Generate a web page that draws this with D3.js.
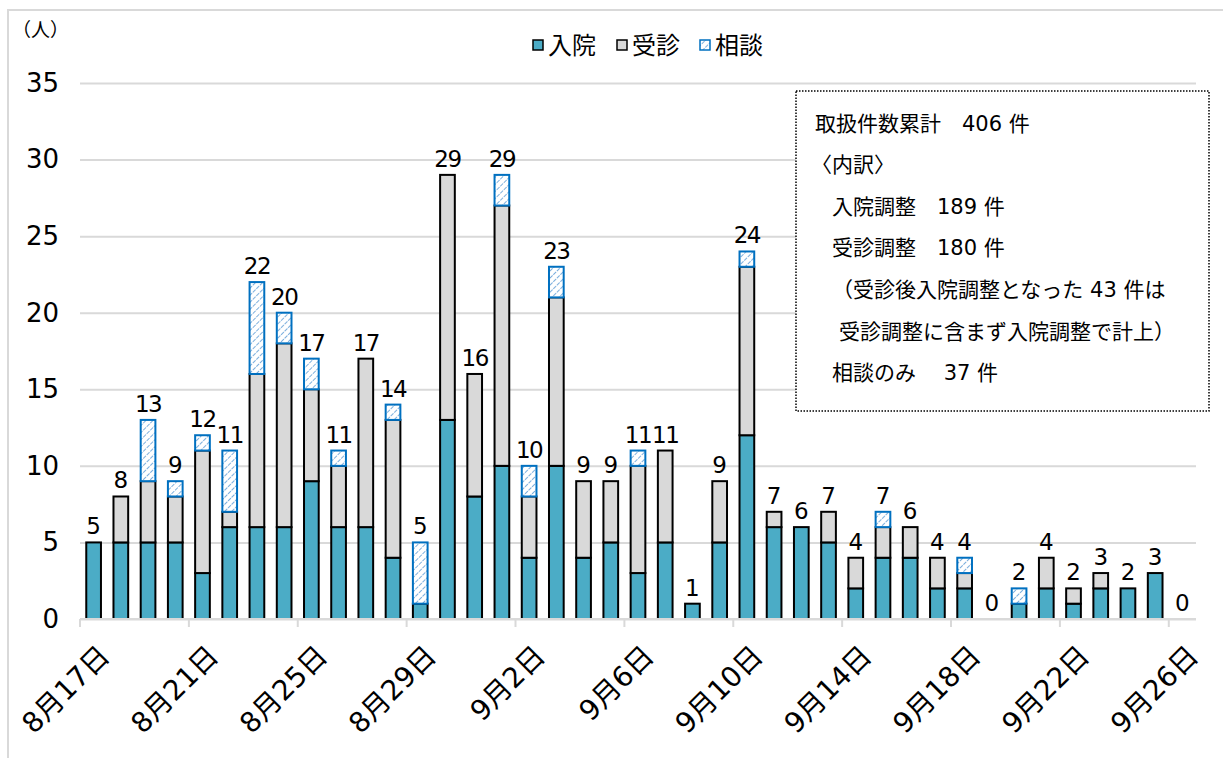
<!DOCTYPE html>
<html>
<head>
<meta charset="utf-8">
<script src="https://cdn.jsdelivr.net/npm/d3@7"></script>
<style>
  body { margin: 0; background: #fff; }
  svg { font-family: "DejaVu Sans", "Noto Sans CJK JP", sans-serif; }
</style>
</head>
<body>
<svg id="chart" width="1223" height="758"></svg>
<script>
// days 8/17 .. 9/26
const dates = [];
for (let d = 17; d <= 31; d++) dates.push(`8月${d}日`);
for (let d = 1; d <= 26; d++) dates.push(`9月${d}日`);

const nyuin = [5,5,5,5,3,6,6,6,9,6,6,4,1,13,8,10,4,10,4,5,3,5,1,5,12,6,6,5,2,4,4,2,2,0,1,2,1,2,2,3,0];
const jushin = [0,3,4,3,8,1,10,12,6,4,11,9,0,16,8,17,4,11,5,4,7,6,0,4,11,1,0,2,2,2,2,2,1,0,0,2,1,1,0,0,0];
const sodan = [0,0,4,1,1,4,6,2,2,1,0,1,4,0,0,2,2,2,0,0,1,0,0,0,1,0,0,0,0,1,0,0,1,0,1,0,0,0,0,0,0];

const seriesNames = ["入院", "受診", "相談"];
const yTicks = [0, 5, 10, 15, 20, 25, 30, 35];

const noteLines = [
    { text: "取扱件数累計\u3000406 件", indent: 0 },
    { text: "〈内訳〉", indent: -4 },
    { text: "入院調整\u3000189 件", indent: 17 },
    { text: "受診調整\u3000180 件", indent: 17 },
    { text: "（受診後入院調整となった 43 件は", indent: 17 },
    { text: "受診調整に含まず入院調整で計上）", indent: 24 },
    { text: "相談のみ\u3000 37 件", indent: 17 }
];

const svg = d3.select("#chart");

// hatch pattern for 相談
const defs = svg.append("defs");
defs.append("pattern")
    .attr("id", "hatch")
    .attr("patternUnits", "userSpaceOnUse")
    .attr("width", 5)
    .attr("height", 5)
    .attr("patternTransform", "rotate(45)")
    .call(p => {
        p.append("rect").attr("width", 5).attr("height", 5).attr("fill", "#fff");
        p.append("line")
            .attr("x1", 0).attr("y1", 0).attr("x2", 0).attr("y2", 5)
            .attr("stroke", "#5b9bd5")
            .attr("stroke-width", 1.6)
            .attr("stroke-dasharray", "3,1");
    });

// outer frame
svg.append("path")
    .attr("d", "M8,758 L8,10 L1223,10")
    .attr("fill", "none")
    .attr("stroke", "#d9d9d9")
    .attr("stroke-width", 2);

const margin = { left: 80, right: 1196, top: 83, bottom: 619 };

const x = d3.scaleBand()
    .domain(d3.range(dates.length))
    .range([margin.left, margin.right])
    .paddingInner(0)
    .paddingOuter(0);

const y = d3.scaleLinear()
    .domain([0, 35])
    .range([margin.bottom, margin.top]);

// gridlines + y labels
const yAxis = svg.append("g")
    .attr("transform", `translate(${margin.left},0)`)
    .call(d3.axisLeft(y).tickValues(yTicks).tickSize(-(margin.right - margin.left)).tickPadding(21));
yAxis.attr("font-family", null);
yAxis.select(".domain").remove();
yAxis.selectAll(".tick line").attr("stroke", "#d9d9d9").attr("stroke-width", 2);
yAxis.selectAll(".tick text")
    .attr("font-size", 26)
    .attr("fill", "#000");

// stacked data
const data = dates.map((d, i) => ({ i, 入院: nyuin[i], 受診: jushin[i], 相談: sodan[i] }));
const stack = d3.stack().keys(seriesNames)(data);

const fills = { "入院": "#4bacc6", "受診": "#d9d9d9", "相談": "url(#hatch)" };
const strokes = { "入院": "#000", "受診": "#000", "相談": "#0070c0" };

const barW = x.bandwidth() * 0.54;

svg.append("g")
    .selectAll("g")
    .data(stack)
    .join("g")
    .attr("fill", d => fills[d.key])
    .attr("stroke", d => strokes[d.key])
    .attr("stroke-width", 2)
    .selectAll("rect")
    .data(d => d.filter(s => s[1] > s[0]))
    .join("rect")
    .attr("x", d => x(d.data.i) + (x.bandwidth() - barW) / 2)
    .attr("y", d => y(d[1]))
    .attr("width", barW)
    .attr("height", d => y(d[0]) - y(d[1]));

// x axis
const xAxis = svg.append("g")
    .attr("transform", `translate(0,${margin.bottom})`)
    .call(d3.axisBottom(x)
        .tickValues(d3.range(0, dates.length, 4))
        .tickFormat(i => dates[i])
        .tickSize(8)
        .tickPadding(0));
xAxis.attr("font-family", null);
xAxis.select(".domain")
    .attr("d", `M${margin.left},0H${margin.right}`)
    .attr("stroke", "#d9d9d9")
    .attr("stroke-width", 2);
xAxis.selectAll(".tick line")
    .attr("x1", -x.step() / 2).attr("x2", -x.step() / 2)
    .attr("stroke", "#d9d9d9")
    .attr("stroke-width", 2);
xAxis.selectAll(".tick text")
    .attr("font-size", 28)
    .attr("fill", "#000")
    .attr("text-anchor", "end")
    .attr("dy", "0.35em")
    .attr("transform", "translate(5,26) rotate(-45)");

// total labels
svg.append("g")
    .selectAll("text")
    .data(data)
    .join("text")
    .attr("x", d => x(d.i) + x.bandwidth() / 2)
    .attr("y", d => y(d.入院 + d.受診 + d.相談) - 8)
    .attr("text-anchor", "middle")
    .attr("font-size", 23)
    .attr("letter-spacing", d => (d.入院 + d.受診 + d.相談) >= 10 ? -1.5 : 0)
    .attr("fill", "#000")
    .text(d => d.入院 + d.受診 + d.相談);

// y unit
svg.append("text")
    .attr("x", 12)
    .attr("y", 37)
    .attr("font-size", 19)
    .attr("font-family", "Noto Sans CJK JP")
    .text("（人）");

// legend
const legend = svg.append("g").attr("transform", "translate(533,45)");
const legX = [0, 84, 167];
seriesNames.forEach((name, k) => {
    const g = legend.append("g").attr("transform", `translate(${legX[k]},0)`);
    g.append("rect")
        .attr("x", 0).attr("y", -5)
        .attr("width", 10).attr("height", 10)
        .attr("fill", fills[name])
        .attr("stroke", strokes[name])
        .attr("stroke-width", 1.5);
    g.append("text")
        .attr("x", 15)
        .attr("y", 0)
        .attr("dy", "0.36em")
        .attr("font-size", 24)
        .text(name);
});

// note box
svg.append("rect")
    .attr("x", 796).attr("y", 91)
    .attr("width", 413).attr("height", 320)
    .attr("fill", "#fff")
    .attr("stroke", "#000")
    .attr("stroke-width", 1.5)
    .attr("stroke-dasharray", "1.5,1.5");

svg.append("g")
    .selectAll("text")
    .data(noteLines)
    .join("text")
    .attr("x", d => 815 + d.indent)
    .attr("y", (d, i) => 123 + i * 41.6)
    .attr("dy", "0.36em")
    .attr("font-size", 21)
    .text(d => d.text);
</script>
</body>
</html>
